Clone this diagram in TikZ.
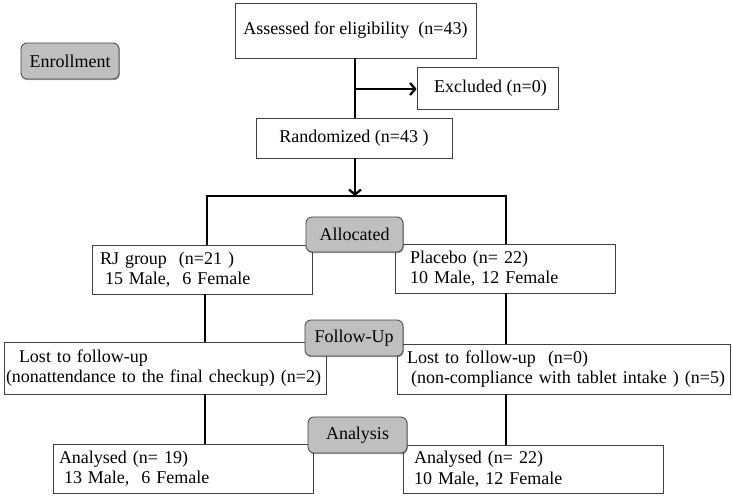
\documentclass[tikz,border=0pt]{standalone}
\usepackage{fontspec}
\setmainfont{Liberation Serif}
\usetikzlibrary{arrows.meta,shadows}
\begin{document}
\begin{tikzpicture}[x=1pt,y=-1pt,
  box/.style={draw=black!75,line width=0.8pt,fill=white,inner sep=0pt,font=\fontsize{18}{20.5}\selectfont},
  phase/.style={draw=black!75,line width=0.8pt,fill=black!25,rounded corners=6pt,inner sep=0pt,
     font=\fontsize{18}{20.5}\selectfont,drop shadow={shadow xshift=0.8pt,shadow yshift=-1.2pt,opacity=0.35,fill=black}},
  conn/.style={line width=2.3pt},
  arr/.style={conn,-{Straight Barb[length=5pt,width=12pt]}}]
\useasboundingbox (0,0) rectangle (733,496);
% main boxes
\node[box,minimum width=241pt,minimum height=55pt] (assess) at (355.5,30.5) {Assessed for eligibility\ \ (n=43)};
\node[phase,minimum width=98pt,minimum height=36pt] (enroll) at (70,61) {Enrollment};
\node[box,minimum width=141pt,minimum height=42pt] (excl) at (487.5,88) {\hspace{6pt}Excluded (n=0)};
\node[box,minimum width=196pt,minimum height=40pt] (rand) at (354,138) {Randomized (n=43 )\hspace{12pt}};
\coordinate (split) at (355,196);
\coordinate (sl) at (207,196);
\coordinate (sr) at (506,196);
\coordinate (junc) at (355,89);
% allocation
\node[box,minimum width=220pt,minimum height=49pt,text width=204pt,inner xsep=8pt,align=left] (rj) at (202,269.5)
  {RJ group\ \ (n=21 )\\\hspace{5pt}15 Male,\ \ 6 Female};
\node[box,minimum width=220pt,minimum height=49pt,text width=190pt,inner xsep=15pt,align=left] (plac) at (505,268.5)
  {Placebo (n= 22)\\10 Male, 12 Female};
% follow-up
\node[box,minimum width=322pt,minimum height=52pt,text width=318pt,inner xsep=2pt,align=left] (lostL) at (165,368)
  {\hspace{13pt}Lost to follow-up\\\mbox{(nonattendance to the final checkup) (n=2)}};
\node[box,minimum width=333pt,minimum height=50pt,text width=313pt,inner xsep=10pt,align=left] (lostR) at (563.5,369)
  {Lost to follow-up\ \ (n=0)\\\mbox{\hspace{4pt}(non-compliance with tablet intake ) (n=5)}};
% analysis
\node[box,minimum width=260pt,minimum height=49pt,text width=248pt,inner xsep=6pt,align=left] (anL) at (183,468.5)
  {Analysed (n= 19)\\\hspace{5pt}13 Male,\ \ 6 Female};
\node[box,minimum width=260pt,minimum height=48pt,text width=238pt,inner xsep=11pt,align=left] (anR) at (533,469)
  {Analysed (n= 22)\\10 Male, 12 Female};
% connectors
\draw[conn] (assess.south -| junc) -- (rand.north -| junc);
\draw[arr] (junc) -- (excl.west |- junc);
\draw[arr] (rand.south -| split) -- (split);
\draw[conn] (rj.north -| sl) -- (sl) -- (sr) -- (plac.north -| sr);
\draw[conn] (205,294) coordinate (a1) -- (lostL.north -| a1);
\draw[conn] (506,293) coordinate (a2) -- (lostR.north -| a2);
\draw[conn] (lostL.south -| a1) -- (anL.north -| a1);
\draw[conn] (lostR.south -| a2) -- (anR.north -| a2);
% phase labels on top
\node[phase,minimum width=97pt,minimum height=35pt] (alloc) at (354.5,234.5) {Allocated};
\node[phase,minimum width=98pt,minimum height=36pt] (fu) at (354,338) {Follow-Up};
\node[phase,minimum width=99pt,minimum height=36pt] (anal) at (357.5,435) {Analysis};
\end{tikzpicture}
\end{document}
